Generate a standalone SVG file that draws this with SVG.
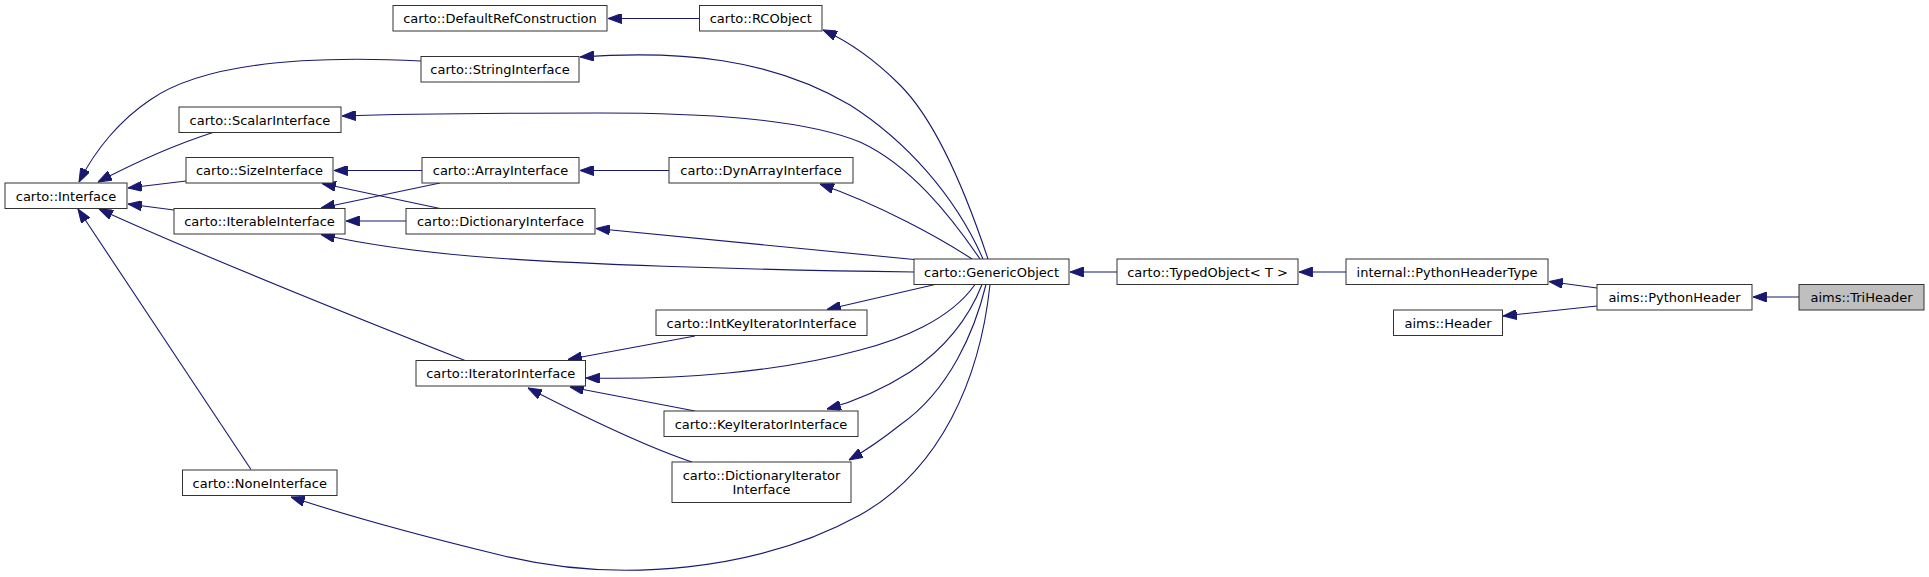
<svg xmlns="http://www.w3.org/2000/svg" width="1929" height="577" viewBox="0 0 1929 577">
<style>
.n rect{fill:#ffffff;stroke:#333333;stroke-width:1}
.n text{font-family:"DejaVu Sans",sans-serif;font-size:13px;fill:#000000;text-anchor:middle}
.e path{fill:none;stroke:#191970;stroke-width:1.1;marker-end:url(#ah)}
#n16 rect{fill:#bfbfbf}
</style>
<defs>
<marker id="ah" markerUnits="userSpaceOnUse" markerWidth="14" markerHeight="10" viewBox="0 0 13 9.4" refX="13" refY="4.7" orient="auto">
<path d="M0,0 L13,4.7 L0,9.4 z" fill="#191970" stroke="#191970" stroke-width="1"/>
</marker>
</defs>
<rect x="0" y="0" width="1929" height="577" fill="#ffffff"/>
<g class="e" id="edges">
<path d="M699,18.5 L608,18.5"/>
<path d="M988,259 C965,190 935,120 900,85 C875,60 850,42 823,30"/>
<path d="M983,259 C955,195 905,140 850,105 C770,58 680,50 580,57"/>
<path d="M980,259 C950,215 910,165 860,142 C800,118 700,113 600,113 C500,113 400,114 342,116"/>
<path d="M669,170.5 L580,170.5"/>
<path d="M972,259 C940,238 880,205 820,184"/>
<path d="M422,170.5 L334,170.5"/>
<path d="M440,183 L321,208"/>
<path d="M440,208.5 L322,183.5"/>
<path d="M406,221 L346,221"/>
<path d="M914,259.5 L596,228.5"/>
<path d="M914,272 C750,270 560,264 470,256 C400,250 360,243 321,234.5"/>
<path d="M1117,272 L1070,272"/>
<path d="M1346,272 L1299,272"/>
<path d="M1597,288 L1549,281.5"/>
<path d="M1597,306 L1503,316"/>
<path d="M1799,297 L1753,297"/>
<path d="M421,61 C300,55 200,65 150,100 C120,120 95,150 79,182"/>
<path d="M213,132.5 C180,143 140,160 98,182"/>
<path d="M186,181 L128,188"/>
<path d="M174,210 L128,204"/>
<path d="M465,360.5 C380,327 200,255 99,209"/>
<path d="M251,469.5 L78,209"/>
<path d="M695,336 L568,359.5"/>
<path d="M935,284.5 L827,309.5"/>
<path d="M975,284.5 C950,320 900,340 860,350 C780,372 680,380 586,378"/>
<path d="M695,411 L570,387"/>
<path d="M982,284.5 C970,315 950,345 910,372 C885,388 860,400 827,409"/>
<path d="M986,284.5 C975,330 950,390 900,425 C885,437 870,448 849,460"/>
<path d="M692,462 C650,448 600,425 528,388"/>
<path d="M990,284.5 C980,380 940,470 860,515 C760,570 620,585 500,555 C430,538 360,520 291,497"/>
</g>
<g class="n" id="n1"><rect x="393" y="5.5" width="214" height="25.5"/><text x="500" y="23">carto::DefaultRefConstruction</text></g>
<g class="n" id="n2"><rect x="699.5" y="5.5" width="122.5" height="25.5"/><text x="760.75" y="23">carto::RCObject</text></g>
<g class="n" id="n3"><rect x="421" y="56.5" width="158" height="25.5"/><text x="500" y="74">carto::StringInterface</text></g>
<g class="n" id="n4"><rect x="179" y="107" width="162" height="25.5"/><text x="260" y="124.5">carto::ScalarInterface</text></g>
<g class="n" id="n5"><rect x="186" y="157.5" width="147" height="25.5"/><text x="259.5" y="175">carto::SizeInterface</text></g>
<g class="n" id="n6"><rect x="422" y="157.5" width="157" height="25.5"/><text x="500.5" y="175">carto::ArrayInterface</text></g>
<g class="n" id="n7"><rect x="669" y="157.5" width="184" height="25.5"/><text x="761" y="175">carto::DynArrayInterface</text></g>
<g class="n" id="n8"><rect x="5" y="183" width="122" height="25.5"/><text x="66" y="200.5">carto::Interface</text></g>
<g class="n" id="n9"><rect x="174" y="208.5" width="171" height="25.5"/><text x="259.5" y="226">carto::IterableInterface</text></g>
<g class="n" id="n10"><rect x="406" y="208.5" width="189" height="25.5"/><text x="500.5" y="226">carto::DictionaryInterface</text></g>
<g class="n" id="n11"><rect x="914" y="259" width="155" height="25.5"/><text x="991.5" y="276.5">carto::GenericObject</text></g>
<g class="n" id="n12"><rect x="1117" y="259" width="181" height="25.5"/><text x="1207.5" y="276.5">carto::TypedObject&lt; T &gt;</text></g>
<g class="n" id="n13"><rect x="1346" y="259" width="202" height="25.5"/><text x="1447" y="276.5">internal::PythonHeaderType</text></g>
<g class="n" id="n14"><rect x="1597" y="284.5" width="155" height="25.5"/><text x="1674.5" y="302">aims::PythonHeader</text></g>
<g class="n" id="n15"><rect x="1393.5" y="310" width="109" height="25.5"/><text x="1448" y="327.5">aims::Header</text></g>
<g class="n" id="n16"><rect x="1799" y="284.5" width="125" height="25.5"/><text x="1861.5" y="302">aims::TriHeader</text></g>
<g class="n" id="n17"><rect x="656" y="310" width="211" height="25.5"/><text x="761.5" y="327.5">carto::IntKeyIteratorInterface</text></g>
<g class="n" id="n18"><rect x="416" y="360.5" width="169.5" height="25.5"/><text x="500.75" y="378">carto::IteratorInterface</text></g>
<g class="n" id="n19"><rect x="664" y="411" width="194" height="25.5"/><text x="761" y="428.5">carto::KeyIteratorInterface</text></g>
<g class="n" id="n20"><rect x="672" y="462" width="179" height="40.5"/><text x="761.5" y="479.5">carto::DictionaryIterator</text><text x="761.5" y="493.5">Interface</text></g>
<g class="n" id="n21"><rect x="182.5" y="470" width="154.5" height="25.5"/><text x="259.75" y="487.5">carto::NoneInterface</text></g>
</svg>
